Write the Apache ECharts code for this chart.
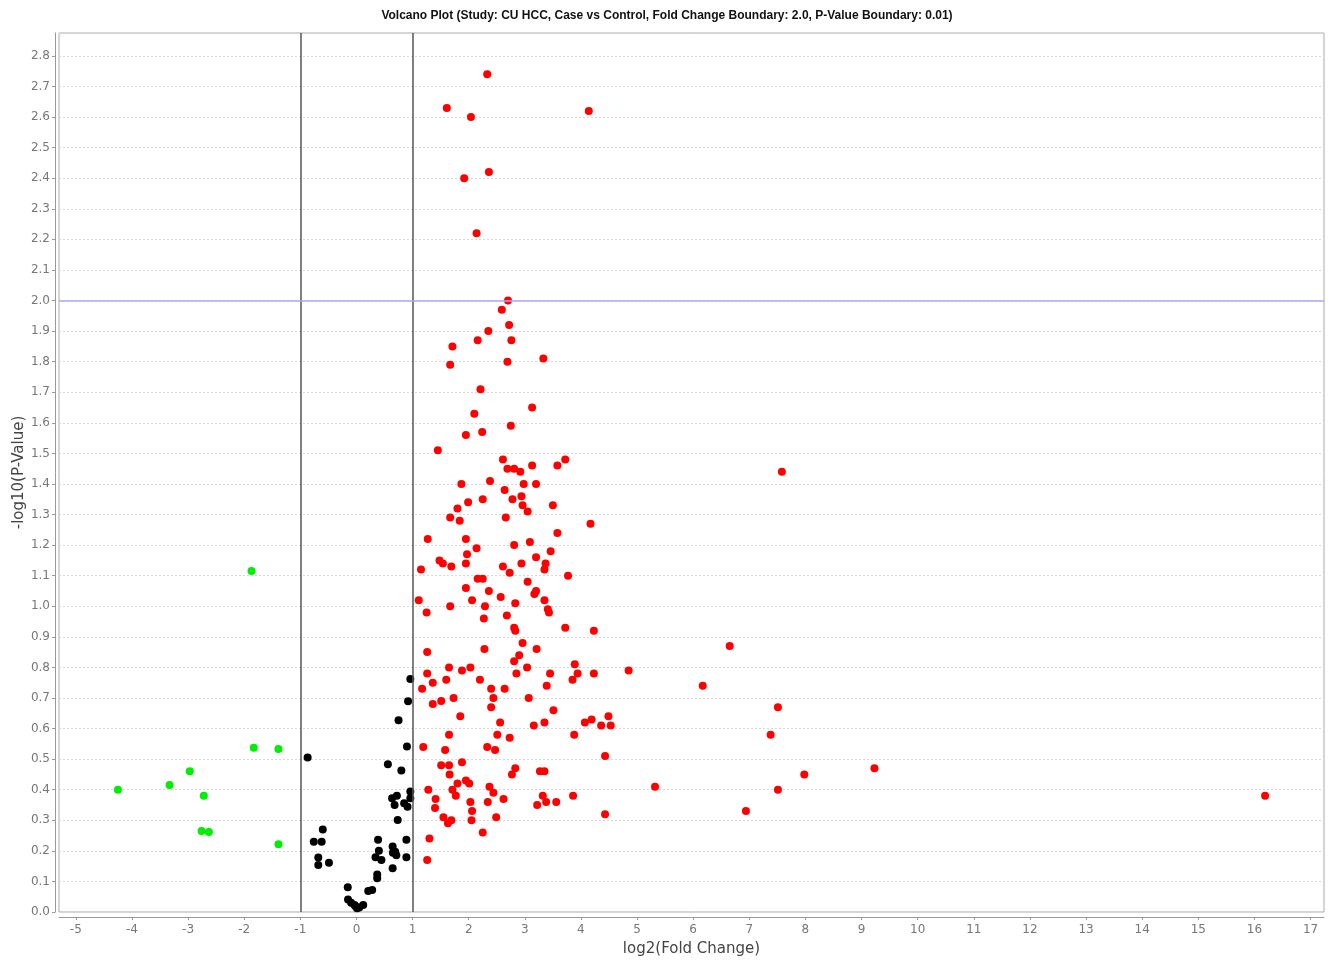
<!DOCTYPE html>
<html>
<head>
<meta charset="utf-8">
<script src="https://cdn.jsdelivr.net/npm/echarts@6/dist/echarts.min.js"></script>
<style>html,body{margin:0;padding:0;background:#fff}#chart{width:1334px;height:960px}</style>
</head>
<body>
<div id="chart"></div>
<script>
const titleText = 'Volcano Plot (Study: CU HCC, Case vs Control, Fold Change Boundary: 2.0, P-Value Boundary: 0.01)';
const xAxisName = 'log2(Fold Change)';
const yAxisName = '-log10(P-Value)';
const xTickValues = [-5,-4,-3,-2,-1,0,1,2,3,4,5,6,7,8,9,10,11,12,13,14,15,16,17];
const foldBoundaries = [-1, 1];
const pValueBoundary = [2.0];

// Down-regulated significant fold change (green)
const greenPoints = [
  [-4.25,0.40],[-3.33,0.415],[-2.97,0.46],[-2.72,0.38],[-2.76,0.265],[-2.63,0.262],
  [-1.87,1.115],[-1.83,0.537],[-1.39,0.533],[-1.39,0.222]
];

// Not significant fold change (black)
const blackPoints = [
  [0.96,0.762],[0.92,0.689],[0.75,0.627],[0.90,0.541],[-0.87,0.505],[0.56,0.483],[0.80,0.463],
  [0.96,0.394],[0.72,0.380],[0.635,0.372],[0.68,0.350],[0.85,0.356],[0.91,0.344],[0.96,0.372],
  [0.735,0.301],[-0.60,0.270],[-0.76,0.230],[-0.62,0.230],[0.385,0.236],[0.89,0.236],
  [-0.68,0.178],[-0.68,0.154],[-0.49,0.161],[0.40,0.200],[0.34,0.179],[0.445,0.170],
  [0.645,0.214],[0.69,0.197],[0.65,0.194],[0.71,0.186],[0.89,0.179],[0.645,0.143],
  [0.37,0.123],[0.37,0.110],[-0.155,0.081],[0.21,0.069],[0.28,0.072],[-0.15,0.041],
  [-0.095,0.030],[-0.02,0.020],[0.05,0.015],[0.12,0.023],[0.01,0.012],[-0.035,0.023]
];

// Up-regulated significant fold change (red)
const redPoints = [
  [2.33,2.74],[1.61,2.63],[2.04,2.60],[4.14,2.62],[2.36,2.42],[1.92,2.40],[2.14,2.22],
  [2.70,2.00],[2.59,1.97],[2.72,1.92],[2.35,1.90],[2.16,1.87],[2.76,1.87],[1.71,1.85],[1.67,1.79],[2.69,1.80],[3.33,1.81],
  [2.21,1.71],[2.10,1.63],[3.13,1.65],[2.75,1.59],[1.95,1.56],[2.24,1.57],[1.45,1.51],
  [2.61,1.48],[2.69,1.45],[2.81,1.45],[2.92,1.44],[3.13,1.46],[3.58,1.46],[3.72,1.48],
  [1.87,1.40],[2.38,1.41],[2.98,1.40],[3.20,1.40],[2.64,1.38],[2.94,1.36],[2.78,1.35],[1.99,1.34],[2.25,1.35],
  [2.96,1.33],[3.05,1.31],[3.50,1.33],[1.80,1.32],[1.67,1.29],[1.84,1.28],[2.66,1.29],[4.17,1.27],
  [1.27,1.22],[1.95,1.22],[2.81,1.20],[3.09,1.21],[3.58,1.24],[1.97,1.17],[2.14,1.19],[3.46,1.18],[3.20,1.16],
  [1.48,1.15],[1.54,1.14],[1.69,1.13],[1.95,1.14],[2.61,1.13],[2.73,1.11],[2.94,1.14],[3.35,1.12],[3.37,1.14],[3.77,1.10],[1.15,1.12],
  [2.16,1.09],[2.25,1.09],[3.05,1.08],[1.95,1.06],[2.36,1.05],[3.20,1.05],[3.17,1.04],[2.57,1.03],[2.06,1.02],[3.35,1.02],
  [1.11,1.02],[1.67,1.00],[2.29,1.00],[2.83,1.01],[3.41,0.99],[3.43,0.98],[1.25,0.98],[2.27,0.96],[2.68,0.97],
  [2.81,0.93],[2.83,0.92],[3.72,0.93],[4.23,0.92],
  [1.26,0.85],[2.28,0.86],[2.96,0.88],[2.90,0.84],[3.21,0.86],[2.81,0.82],[3.04,0.80],[1.65,0.80],[2.03,0.80],[1.88,0.79],
  [1.26,0.78],[1.36,0.75],[1.17,0.73],[1.60,0.76],[2.20,0.76],[2.85,0.78],[3.45,0.78],[3.89,0.81],[3.94,0.78],[3.85,0.76],[4.23,0.78],[4.85,0.79],
  [2.40,0.73],[2.64,0.73],[3.39,0.74],[2.44,0.70],[1.73,0.70],[1.51,0.69],[1.36,0.68],[3.07,0.70],[2.40,0.67],[3.51,0.66],
  [1.85,0.64],[2.56,0.62],[3.16,0.61],[3.35,0.62],[4.07,0.62],[4.19,0.63],[4.36,0.61],[4.49,0.64],[4.53,0.61],
  [1.65,0.58],[2.51,0.58],[2.73,0.57],[3.88,0.58],[1.19,0.54],[1.58,0.53],[2.33,0.54],[2.47,0.53],[4.43,0.51],
  [1.51,0.48],[1.65,0.48],[1.88,0.49],[1.66,0.45],[2.83,0.47],[2.77,0.45],[3.27,0.46],[3.35,0.46],
  [1.80,0.42],[1.95,0.43],[2.01,0.42],[1.28,0.40],[1.71,0.40],[1.77,0.38],[2.37,0.41],[2.44,0.39],[2.62,0.37],
  [1.41,0.37],[1.40,0.34],[2.03,0.36],[2.34,0.36],[2.06,0.33],[2.05,0.30],[2.49,0.31],[3.32,0.38],[3.38,0.36],
  [3.22,0.35],[3.56,0.36],[3.86,0.38],[4.43,0.32],[1.55,0.31],[1.69,0.30],[1.63,0.29],[2.25,0.26],[1.30,0.24],[1.26,0.17],
  [6.65,0.87],[6.17,0.74],[7.51,0.67],[7.38,0.58],[7.98,0.45],[5.32,0.41],[7.51,0.40],[6.94,0.33],
  [7.58,1.44],[9.23,0.47],[16.19,0.38]
];

const chart = echarts.init(document.getElementById('chart'), null, {renderer: 'canvas'});
const labelFont = {color: '#777', fontSize: 12, fontFamily: 'DejaVu Sans'};

chart.setOption({
  animation: false,
  backgroundColor: '#fff',
  title: {
    text: titleText,
    left: 'center',
    top: 5,
    textStyle: {fontSize: 12, fontWeight: 'bold', color: '#111', fontFamily: 'Liberation Sans'}
  },
  grid: {
    left: 59, right: 10, top: 33, bottom: 48,
    show: true, borderColor: '#aaa', borderWidth: 1, backgroundColor: '#fff',
    containLabel: false,
    outerBoundsMode: 'none'
  },
  xAxis: {
    type: 'value',
    min: -5.30, max: 17.24,
    offset: 5,
    name: xAxisName,
    nameLocation: 'middle',
    nameGap: 25,
    nameMoveOverlap: false,
    nameTextStyle: {fontSize: 15, color: '#444', fontFamily: 'DejaVu Sans'},
    axisLine: {show: true, onZero: false, lineStyle: {color: '#999', width: 1}},
    axisTick: {show: true, length: 3, lineStyle: {color: '#999'}, customValues: xTickValues},
    axisLabel: Object.assign({margin: 7, customValues: xTickValues, formatter: v => String(v)}, labelFont),
    splitLine: {show: false}
  },
  yAxis: {
    type: 'value',
    min: 0, max: 2.875, interval: 0.1,
    offset: 4,
    name: yAxisName,
    nameLocation: 'middle',
    nameGap: 28,
    nameMoveOverlap: false,
    nameTextStyle: {fontSize: 15, color: '#444', fontFamily: 'DejaVu Sans'},
    axisLine: {show: true, onZero: false, lineStyle: {color: '#999', width: 1}},
    axisTick: {show: true, length: 3, lineStyle: {color: '#999'}},
    axisLabel: Object.assign({margin: 5, showMaxLabel: false, formatter: v => v.toFixed(1)}, labelFont),
    splitLine: {show: true, lineStyle: {color: '#d8d8d8', type: [2, 2], width: 1}}
  },
  series: [
    {
      type: 'scatter',
      name: 'boundaries',
      data: [],
      z: 1,
      silent: true,
      markLine: {
        silent: true,
        symbol: 'none',
        label: {show: false},
        animation: false,
        data: [
          ...foldBoundaries.map(v => ({xAxis: v, lineStyle: {color: '#555', width: 1.5, type: 'solid'}})),
          ...pValueBoundary.map(v => ({yAxis: v, lineStyle: {color: '#a8a8f4', width: 1.5, type: 'solid'}}))
        ]
      }
    },
    {
      type: 'scatter', name: 'not significant', data: blackPoints, z: 3,
      symbol: 'circle', symbolSize: 8, itemStyle: {color: '#000', opacity: 1}
    },
    {
      type: 'scatter', name: 'down', data: greenPoints, z: 3,
      symbol: 'circle', symbolSize: 8, itemStyle: {color: '#00ee00', opacity: 1}
    },
    {
      type: 'scatter', name: 'up', data: redPoints, z: 3,
      symbol: 'circle', symbolSize: 8, itemStyle: {color: '#ff0000', opacity: 1}
    }
  ]
});
</script>
</body>
</html>
